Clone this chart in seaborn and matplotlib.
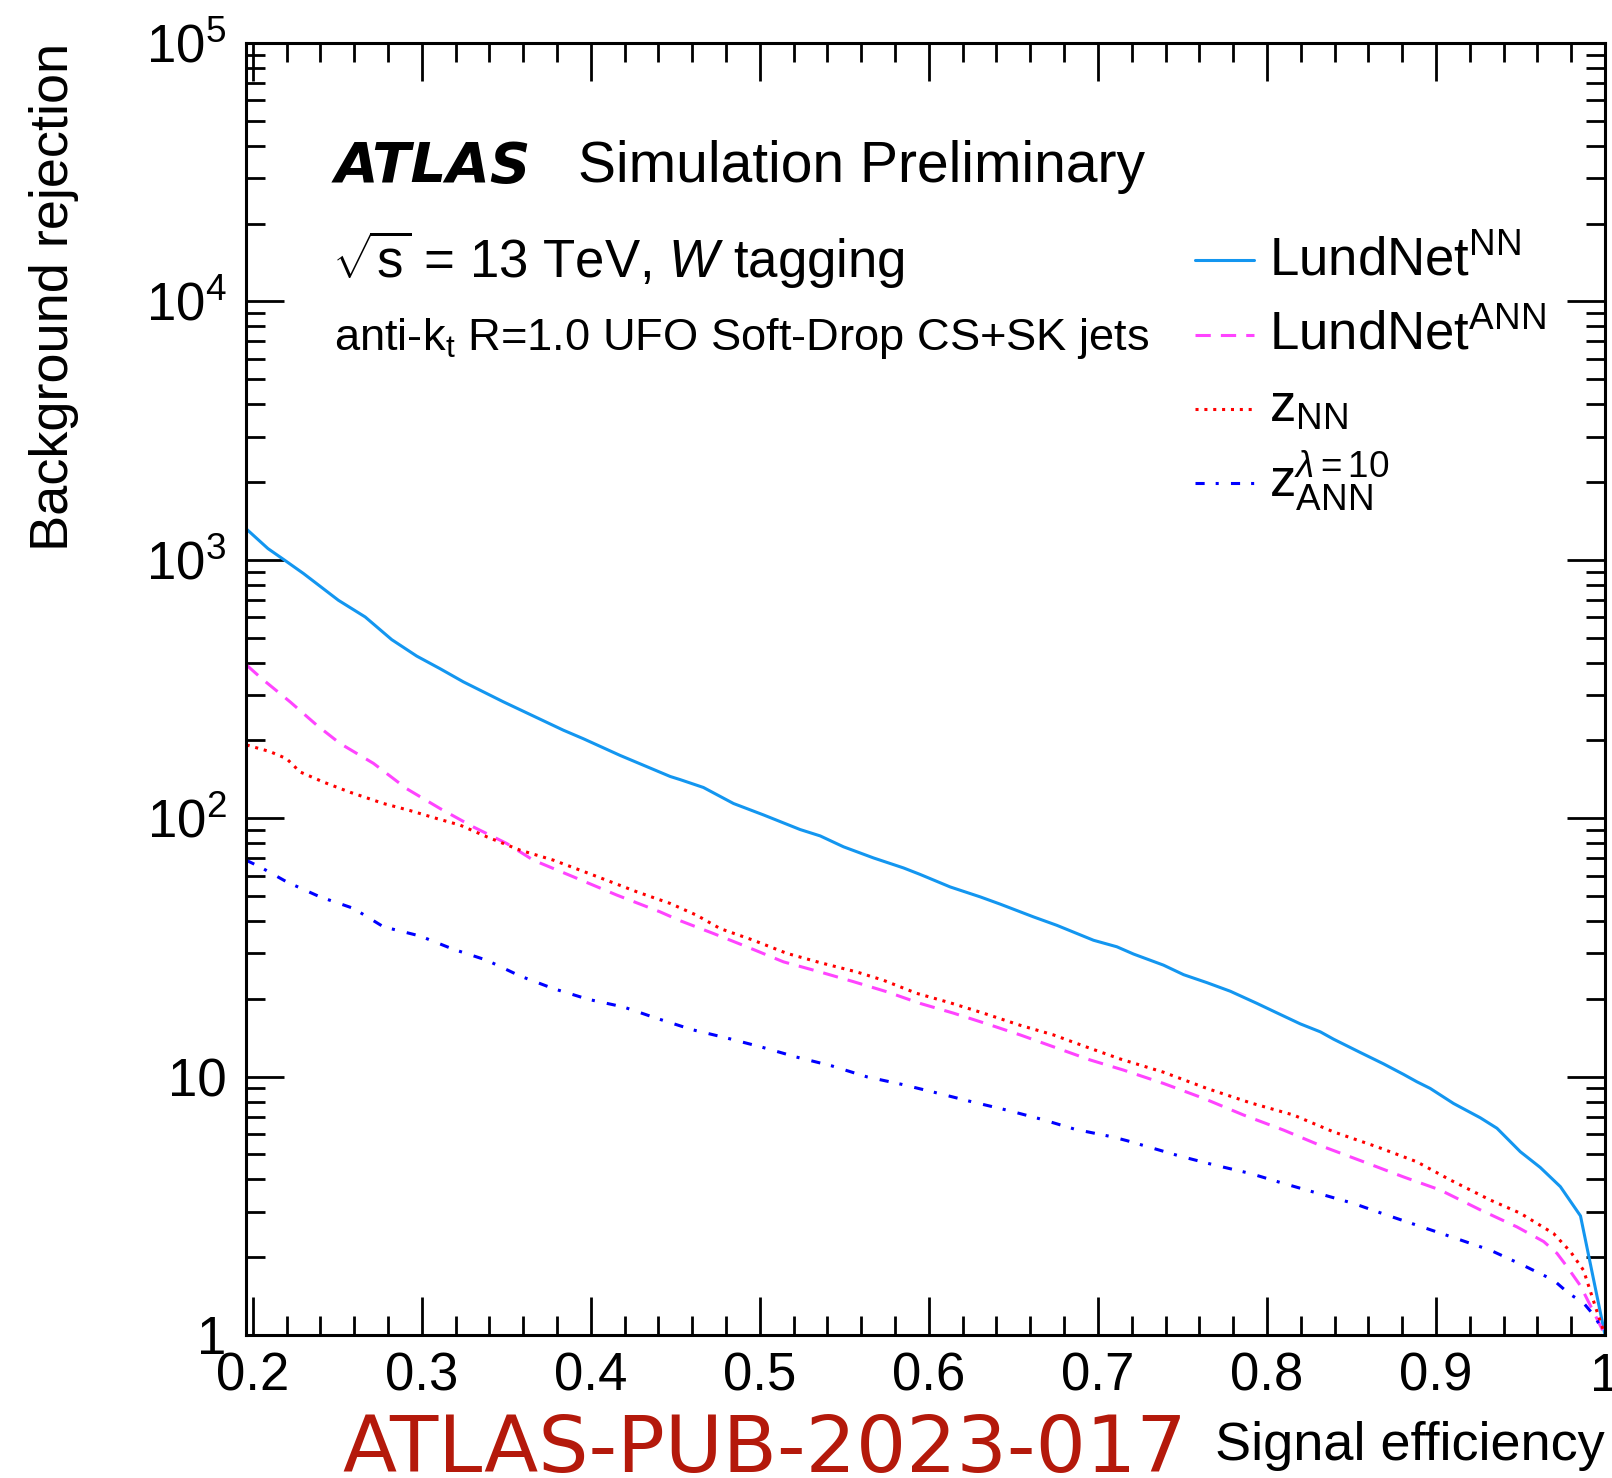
import numpy as np
import pandas as pd
import matplotlib
matplotlib.use("Agg")
import matplotlib.pyplot as plt
from matplotlib.lines import Line2D
import seaborn as sns

# ---------------- data ----------------
lundnet_nn_x = [0.196, 0.209, 0.219, 0.230, 0.2507, 0.2665, 0.2822, 0.297, 0.3108, 0.3246,
                0.3483, 0.3838, 0.3956, 0.4173, 0.447, 0.4529, 0.4666, 0.4844, 0.5021, 0.5238,
                0.5357, 0.5495, 0.5672, 0.585, 0.5948, 0.6126, 0.6304, 0.6422, 0.6619, 0.6757,
                0.6974, 0.7112, 0.7211, 0.7388, 0.7507, 0.7645, 0.7783, 0.7941, 0.8039, 0.8197,
                0.8316, 0.8394, 0.8552, 0.869, 0.8808, 0.8887, 0.8966, 0.9104, 0.9262, 0.9361,
                0.9499, 0.9617, 0.9736, 0.9855, 1.0]
lundnet_nn_y = [1320, 1105, 995, 885, 697, 601, 491, 424, 379, 337,
                282, 219, 203, 175, 145, 141, 131.5, 114, 103, 90.4,
                85.4, 77.5, 70.2, 64.2, 60.6, 54.2, 49.6, 46.5, 41.5, 38.5,
                33.7, 31.8, 29.8, 27.0, 24.8, 23.1, 21.4, 19.2, 17.9, 16.0,
                14.9, 13.96, 12.4, 11.2, 10.2, 9.55, 9.0, 7.87, 6.93, 6.31,
                5.12, 4.45, 3.75, 2.89, 1.0]

lundnet_ann_x = [0.1964, 0.2053, 0.2221, 0.2379, 0.2517, 0.2714, 0.2911, 0.3108, 0.3305, 0.3503,
                 0.366, 0.3897, 0.4154, 0.441, 0.4529, 0.4725, 0.4923, 0.514, 0.5357, 0.5554,
                 0.5751, 0.5948, 0.6146, 0.6343, 0.654, 0.6757, 0.6954, 0.7151, 0.7388, 0.7625,
                 0.7862, 0.8098, 0.8335, 0.8572, 0.8808, 0.9025, 0.9262, 0.9479, 0.9637, 0.9716,
                 0.9775, 0.9855, 0.994, 1.0]
lundnet_ann_y = [391, 347, 282, 229, 194.5, 163, 130, 109, 92.5, 79.8,
                 68.8, 59.3, 50.4, 43.4, 40.1, 35.8, 31.8, 27.8, 25.4, 23.3,
                 21.3, 19.2, 17.6, 16.0, 14.5, 12.9, 11.6, 10.6, 9.41, 8.24,
                 7.10, 6.21, 5.35, 4.68, 4.09, 3.64, 3.05, 2.62, 2.30, 2.07,
                 1.84, 1.55, 1.2, 1.0]

z_nn_x = [0.1964, 0.2102, 0.22, 0.228, 0.2418, 0.2576, 0.2773, 0.2931, 0.3089, 0.3227,
          0.3385, 0.3582, 0.3779, 0.4015, 0.4272, 0.4469, 0.4627, 0.4765, 0.4962, 0.5159,
          0.5357, 0.5574, 0.5731, 0.5928, 0.6126, 0.6323, 0.654, 0.6737, 0.6935, 0.7132,
          0.7388, 0.7645, 0.7901, 0.8157, 0.8394, 0.8651, 0.8887, 0.9085, 0.9321, 0.9499,
          0.9696, 0.9796, 0.9873, 0.9962, 1.0]
z_nn_y = [192, 181, 170, 151, 138, 126, 114, 107, 99.7, 94,
          84.7, 75.2, 68.8, 60.2, 51.9, 46.8, 42.1, 37.4, 33.7, 30.0,
          27.6, 25.4, 23.6, 21.0, 19.3, 17.6, 15.8, 14.5, 13.0, 11.7,
          10.4, 9.0, 7.92, 7.10, 6.11, 5.35, 4.68, 3.98, 3.33, 2.96,
          2.47, 2.10, 1.78, 1.18, 1.0]

z_ann_x = [0.196, 0.2043, 0.2201, 0.2398, 0.2595, 0.2773, 0.299, 0.3187, 0.3385, 0.3582,
           0.3779, 0.3986, 0.4193, 0.4391, 0.4598, 0.4805, 0.5012, 0.5217, 0.5426, 0.5633,
           0.584, 0.6046, 0.6254, 0.6461, 0.6669, 0.6866, 0.7083, 0.7172, 0.7487, 0.7694,
           0.7901, 0.8098, 0.8305, 0.8512, 0.871, 0.8917, 0.9114, 0.9321, 0.9509, 0.9696,
           0.9785, 0.9873, 0.994, 1.0]
z_ann_y = [68.8, 64.8, 56.7, 49.6, 44.8, 38.0, 35.0, 31.1, 28.2, 24.5,
           21.9, 19.9, 18.6, 16.8, 15.2, 14.1, 13.0, 11.9, 11.0, 9.98,
           9.33, 8.65, 7.99, 7.42, 6.83, 6.25, 5.85, 5.65, 4.92, 4.54,
           4.22, 3.86, 3.53, 3.23, 2.91, 2.62, 2.37, 2.13, 1.87, 1.63,
           1.45, 1.33, 1.18, 1.0]

series_labels = [r"LundNet$^{\mathrm{NN}}$", r"LundNet$^{\mathrm{ANN}}$",
                 r"z$_{\mathrm{NN}}$", r"z$_{\mathrm{ANN}}^{\lambda\mathrm{=10}}$"]
x_ticks = [0.2, 0.3, 0.4, 0.5, 0.6, 0.7, 0.8, 0.9, 1.0]
x_tick_labels = ["0.2", "0.3", "0.4", "0.5", "0.6", "0.7", "0.8", "0.9", "1"]
y_ticks = [1, 10, 100, 1e3, 1e4, 1e5]
y_tick_labels = ["1", "10", r"$10^{2}$", r"$10^{3}$", r"$10^{4}$", r"$10^{5}$"]

# ---------------- style ----------------
sns.set_style("white")
plt.rcParams["font.family"] = ["Liberation Sans", "DejaVu Sans"]
plt.rcParams["mathtext.fontset"] = "custom"
plt.rcParams["mathtext.rm"] = "Liberation Sans"
plt.rcParams["mathtext.it"] = "Liberation Sans:italic"
plt.rcParams["mathtext.bf"] = "Liberation Sans:bold"
plt.rcParams["mathtext.sf"] = "Liberation Sans"
for k in ["text.color", "axes.labelcolor", "xtick.color", "ytick.color", "axes.edgecolor"]:
    plt.rcParams[k] = "black"

W, H = 1612, 1478
fig = plt.figure(figsize=(W / 100, H / 100), dpi=100)
ax_left, ax_right, ax_top, ax_bottom = 246, 1605, 43, 1335
ax = fig.add_axes([ax_left / W, 1 - ax_bottom / H, (ax_right - ax_left) / W, (ax_bottom - ax_top) / H])
ax.set_facecolor("white")

lw = 2.2
styles = [
    dict(color="#1396f0", linestyle="-"),
    dict(color="#ff44ff", linestyle=(0, (5.0, 3.3))),
    dict(color="#ff0000", linestyle=(0, (1.0, 1.9))),
    dict(color="#0000ff", linestyle=(0, (3.0, 3.6, 1.0, 4.0))),
]
all_x = [lundnet_nn_x, lundnet_ann_x, z_nn_x, z_ann_x]
all_y = [lundnet_nn_y, lundnet_ann_y, z_nn_y, z_ann_y]
for xs, ys, lab, st in zip(all_x, all_y, series_labels, styles):
    df = pd.DataFrame({"eff": xs, "rej": ys})
    sns.lineplot(data=df, x="eff", y="rej", ax=ax, color=st["color"], linestyle=st["linestyle"],
                 linewidth=lw, sort=False, estimator=None, legend=False)

ax.set_yscale("log")
ax.set_xlim(0.196, 1.0)
ax.set_ylim(1, 1e5)

ax.set_xticks(x_ticks)
ax.set_xticklabels(x_tick_labels)
ax.set_xticks(np.arange(0.2, 1.0001, 0.02), minor=True)
ax.set_yticks(y_ticks)
ax.set_yticklabels(y_tick_labels)
ax.yaxis.set_minor_locator(matplotlib.ticker.LogLocator(base=10, subs=np.arange(2, 10)))
ax.yaxis.set_minor_formatter(matplotlib.ticker.NullFormatter())

ax.tick_params(which="both", direction="in", top=True, right=True, bottom=True, left=True,
               width=2.0, color="black", labelcolor="black")
ax.tick_params(which="major", length=27.5)
ax.tick_params(which="minor", length=13.7)
ax.tick_params(axis="x", which="major", labelsize=38, pad=12)
ax.tick_params(axis="y", which="major", labelsize=38, pad=14)
for sp in ax.spines.values():
    sp.set_linewidth(2.2)
    sp.set_color("black")
    sp.set_visible(True)
ax.grid(False)

ax.set_xlabel("Signal efficiency", fontsize=39, ha="right", va="baseline")
ax.xaxis.set_label_coords(1.0, (ax_bottom - 1460) / (ax_bottom - ax_top))
ax.set_ylabel("Background rejection", fontsize=39, ha="right", va="top")
ax.yaxis.set_label_coords((29 - ax_left) / (ax_right - ax_left), 1.0)


def fx(px):
    return px / W


def fy(py):
    return 1 - py / H


fig.text(fx(335), fy(181.7), "ATLAS", fontsize=40.5, fontweight="bold", fontstyle="italic",
         family="DejaVu Sans", va="baseline")
fig.text(fx(578), fy(181.7), "Simulation Preliminary", fontsize=41, va="baseline")
fig.text(fx(332), fy(278), r"$\sqrt{\mathrm{s}}$ = 13 TeV, $W$ tagging", fontsize=38, va="baseline")
fig.text(fx(334), fy(350), r"anti-k$_{\mathrm{t}}$ R=1.0 UFO Soft-Drop CS+SK jets", fontsize=32.6, va="baseline")

# legend (drawn manually to reproduce ROOT's even spacing)
leg_line_y = [260, 335, 409, 483]
leg_text_y = [275, 349, 422, 497]
for st, lab, ly, ty in zip(styles, series_labels, leg_line_y, leg_text_y):
    fig.add_artist(Line2D([fx(1195), fx(1254)], [fy(ly), fy(ly)], color=st["color"],
                          linestyle=st["linestyle"], linewidth=lw))
    fig.text(fx(1269), fy(ty), lab, fontsize=38, va="baseline")

fig.text(fx(342), fy(1472), "ATLAS-PUB-2023-017", fontsize=57, color="#b4190b",
         family="DejaVu Sans", va="baseline")

fig.savefig("out.png", dpi=100, facecolor="white")
